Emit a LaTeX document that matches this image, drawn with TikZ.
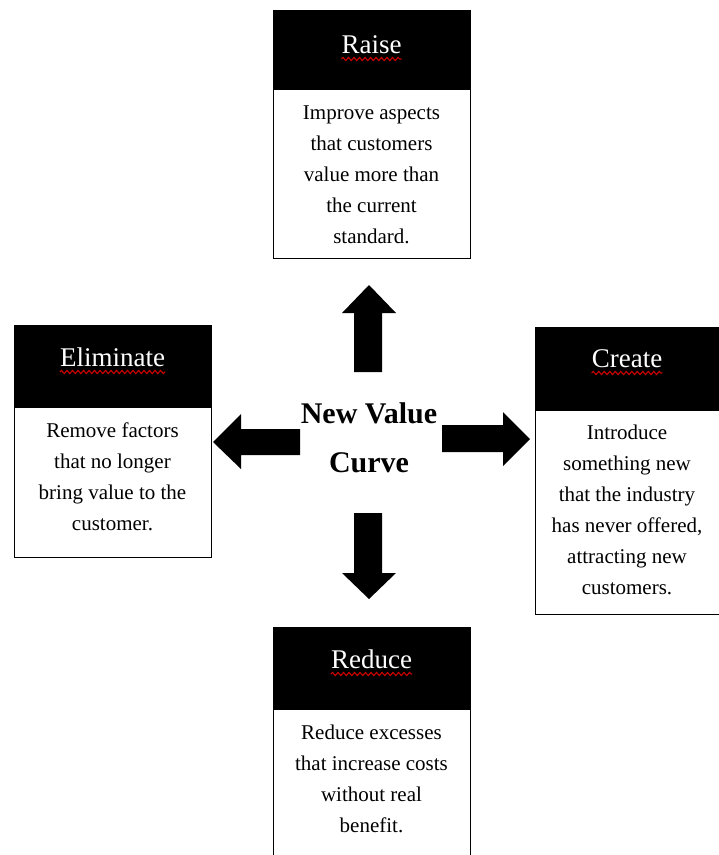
\documentclass[tikz,border=0pt]{standalone}
\usepackage{fontspec}
\setmainfont{Liberation Serif}
\usetikzlibrary{decorations.pathmorphing}
\begin{document}
\begin{tikzpicture}[x=1pt,y=-1pt,
  boxframe/.style={draw=black, line width=1pt, fill=white, inner sep=0pt, anchor=north west},
  headfill/.style={fill=black},
  titletext/.style={text=white, font=\fontsize{27}{30}\selectfont, inner sep=0pt, anchor=base},
  bodytext/.style={font=\fontsize{21}{31}\selectfont, align=center, inner sep=0pt, anchor=north},
  wavy/.style={draw=red!80!black, line width=1.1pt, decorate, decoration={snake, amplitude=1.6pt, segment length=5.5pt}},
  blockarrow/.style={fill=black},
  centertext/.style={font=\bfseries\fontsize{30}{49}\selectfont, align=center, inner sep=0pt}]
\useasboundingbox (0,0) rectangle (719,855);

% Raise
\node[boxframe, minimum width=197pt, minimum height=248pt] (raise) at (273,10) {};
\fill[headfill] (raise.north west) rectangle ++(197,80);
\node[titletext] (raiset) at (371.5,53) {Raise};
\draw[wavy] ([yshift=-6pt]raiset.base west) -- ([yshift=-6pt]raiset.base east);
\node[bodytext] (raiseb) at (371.5,106) {Improve aspects\\that customers\\value more than\\the current\\standard.};

% Eliminate
\node[boxframe, minimum width=197pt, minimum height=232pt] (elim) at (14,325) {};
\fill[headfill] (elim.north west) rectangle ++(197,83);
\node[titletext] (elimt) at (112.5,366) {Eliminate};
\draw[wavy] ([yshift=-6pt]elimt.base west) -- ([yshift=-6pt]elimt.base east);
\node[bodytext] (elimb) at (112.5,423) {Remove factors\\that no longer\\bring value to the\\customer.};

% Create
\node[boxframe, minimum width=186pt, minimum height=287pt] (create) at (535,327) {};
\fill[headfill] (create.north west) rectangle ++(186,84);
\node[titletext] (createt) at (627,367) {Create};
\draw[wavy] ([yshift=-6pt]createt.base west) -- ([yshift=-6pt]createt.base east);
\node[bodytext] (createb) at (627,425) {Introduce\\something new\\that the industry\\has never offered,\\attracting new\\customers.};

% Reduce
\node[boxframe, minimum width=197pt, minimum height=240pt] (reduce) at (273,627) {};
\fill[headfill] (reduce.north west) rectangle ++(197,83);
\node[titletext] (reducet) at (371.5,668) {Reduce};
\draw[wavy] ([yshift=-6pt]reducet.base west) -- ([yshift=-6pt]reducet.base east);
\node[bodytext] (reduceb) at (371.5,725) {Reduce excesses\\that increase costs\\without real\\benefit.};

% block arrows
\fill[blockarrow] (354,372) -- (354,313) -- (342,313) -- (369,285) -- (396,313) -- (382,313) -- (382,372) -- cycle;
\fill[blockarrow] (354,513) -- (382,513) -- (382,573) -- (396,573) -- (369,599) -- (342,573) -- (354,573) -- cycle;
\fill[blockarrow] (300,429) -- (241,429) -- (241,414) -- (213,442) -- (241,469) -- (241,455) -- (300,455) -- cycle;
\fill[blockarrow] (442,425) -- (503,425) -- (503,412) -- (530,439) -- (503,466) -- (503,452) -- (442,452) -- cycle;

% center
\node[centertext] (center) at (369,438) {New Value\\Curve};
\end{tikzpicture}
\end{document}
